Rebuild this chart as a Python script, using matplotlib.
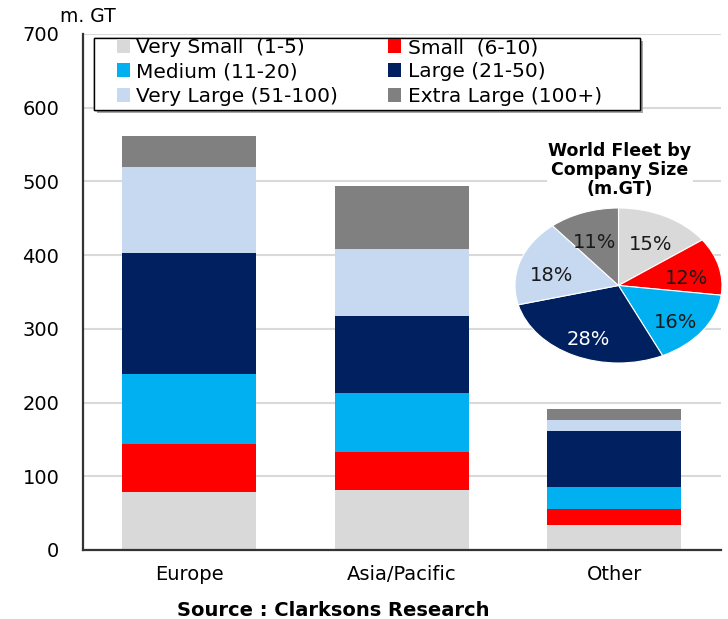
import numpy as np
import matplotlib
matplotlib.use("Agg")
import matplotlib.pyplot as plt
import matplotlib.patheffects as pe
from matplotlib.patches import Patch, Rectangle

# fleet by owner region and company size (m. GT)
regions = ["Europe", "Asia/Pacific", "Other"]
size_classes = ["Very Small  (1-5)", "Small  (6-10)", "Medium (11-20)",
                "Large (21-50)", "Very Large (51-100)", "Extra Large (100+)"]
very_small = [78, 81, 34]
small = [66, 52, 22]
medium = [95, 80, 29]
large = [164, 105, 76]
very_large = [117, 90, 16]
extra_large = [42, 86, 14]

# world fleet share by company size (%)
world_share = [15, 12, 16, 28, 18, 11]

colors = ["#D9D9D9", "#FF0000", "#00B0F0", "#002060", "#C6D9F1", "#808080"]

fig = plt.figure(figsize=(7.28, 6.19), dpi=100)
ax = fig.add_axes([0.114, 0.1115, 0.8757, 0.8336])

x = np.arange(len(regions))
bottom = np.zeros(len(regions))
for vals, col in zip([very_small, small, medium, large, very_large, extra_large], colors):
    ax.bar(x, vals, width=0.63, bottom=bottom, color=col, linewidth=0, zorder=2)
    bottom += np.array(vals)

ax.set_xlim(-0.5, 2.5)
ax.set_ylim(0, 700)
ax.set_yticks(np.arange(0, 701, 100))
ax.set_xticks(x)
ax.set_xticklabels(regions)
ax.tick_params(axis="both", length=0, labelsize=14)
ax.tick_params(axis="y", pad=17)
ax.tick_params(axis="x", pad=11)
ax.grid(axis="y", color="#D9D9D9", linewidth=1.5, zorder=0)
ax.set_axisbelow(True)
for side in ["top", "right"]:
    ax.spines[side].set_visible(False)
for side in ["left", "bottom"]:
    ax.spines[side].set_color("#333333")
    ax.spines[side].set_linewidth(1.6)

fig.text(60 / 728, 1 - 17 / 619, "m. GT", fontsize=13.5, ha="left", va="center")

# legend box drawn separately so the inner padding can be wider than tall
box = Rectangle((0.0173, 0.8527), 0.8571, 0.1395, transform=ax.transAxes,
                facecolor="white", edgecolor="black", linewidth=1.0, zorder=4,
                path_effects=[pe.withSimplePatchShadow(offset=(2, -2), shadow_rgbFace="0.65", alpha=1),
                              pe.Normal()])
ax.add_patch(box)

# legend laid out row by row: matplotlib fills columns first
order = [0, 2, 4, 1, 3, 5]
handles = [Patch(facecolor=colors[i], edgecolor="none", label=size_classes[i]) for i in order]
leg = ax.legend(handles=handles, ncol=2, loc="center left",
                bbox_to_anchor=(0.0534, 0.9264), fontsize=14.5, frameon=False,
                handlelength=0.65, handleheight=0.7, handletextpad=0.3,
                labelspacing=0.27, columnspacing=2.5, borderpad=0,
                borderaxespad=0)
leg.set_zorder(5)

# inset pie of the world fleet
pax = fig.add_axes([515 / 728, 1 - 363 / 619, 207 / 728, 155 / 619])
wedges, texts, autotexts = pax.pie(
    world_share, colors=colors, startangle=90, counterclock=False,
    autopct=lambda p: f"{p:.0f}%", pctdistance=0.68, radius=1,
    wedgeprops=dict(edgecolor="white", linewidth=0.8),
    textprops=dict(fontsize=14, color="#1a1a1a"))
for t in autotexts:
    px, py = t.get_position()
    t.set_position((px, py - 0.08))
autotexts[3].set_color("white")
pax.set_aspect("auto")
pax.set_xlim(-1, 1)
pax.set_ylim(-1, 1)

fig.text(620 / 728, 1 - 170 / 619, "World Fleet by\nCompany Size\n(m.GT)",
         ha="center", va="center", fontsize=12.5, fontweight="bold",
         linespacing=1.1,
         bbox=dict(facecolor="white", edgecolor="none", pad=1))

fig.text(333 / 728, 1 - 610 / 619, "Source : Clarksons Research",
         ha="center", va="center", fontsize=14, fontweight="bold")

fig.savefig("out.png", dpi=100)
